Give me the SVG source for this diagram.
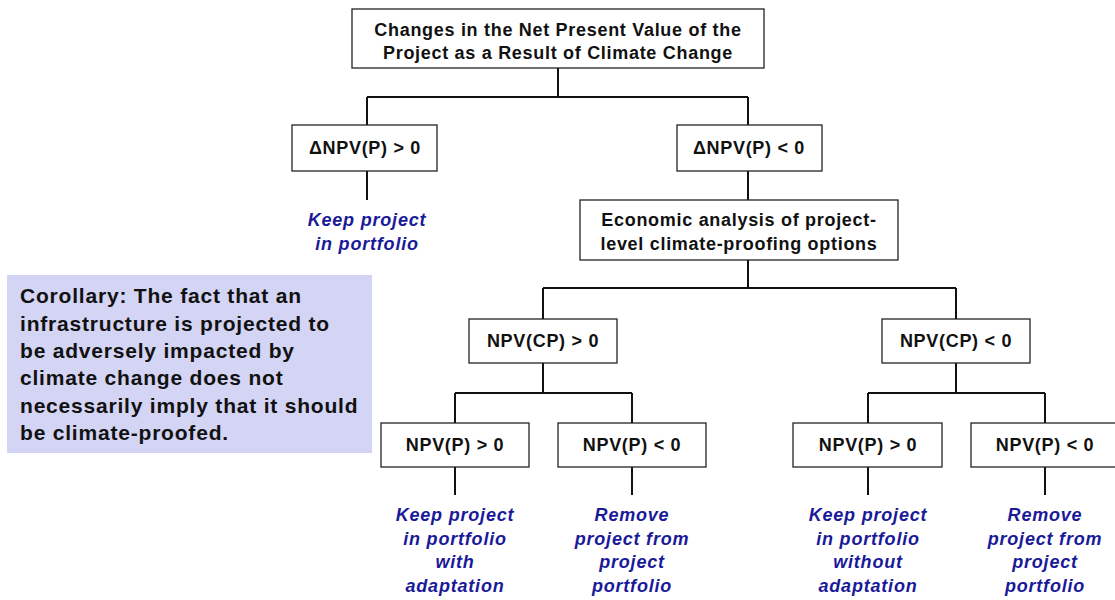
<svg xmlns="http://www.w3.org/2000/svg" width="1115" height="600" viewBox="0 0 1115 600">
<style>
.box{fill:#fff;stroke:#222;stroke-width:1.3}
.t{font-family:"Liberation Sans",Arial,sans-serif;font-weight:bold;font-size:18px;letter-spacing:0.7px;fill:#111;text-anchor:middle}
.o{font-family:"Liberation Sans",Arial,sans-serif;font-weight:bold;font-style:italic;font-size:18px;letter-spacing:0.8px;fill:#1a1a99;text-anchor:middle}
.c{font-family:"Liberation Sans",Arial,sans-serif;font-weight:bold;font-size:21px;letter-spacing:0.8px;fill:#111}
.ln{fill:none;stroke:#111;stroke-width:2}
</style>
<rect width="1115" height="600" fill="#fff"/>
<g id="connectors" class="ln">
<path d="M558 68V97M367 97H748M367 97V125M748 97V125"/>
<path d="M367 171V200M748 171V200"/>
<path d="M748 260V288M543 288H956M543 288V319M956 288V319"/>
<path d="M543 363V393M455 393H632M455 393V423M632 393V423"/>
<path d="M956 363V393M868 393H1045M868 393V423M1045 393V423"/>
<path d="M455 467V495M632 467V495M868 467V495M1045 467V495"/>
</g>
<g id="root"><rect class="box" x="352" y="9" width="412" height="59"/>
<text class="t" x="558" y="36">Changes in the Net Present Value of the</text>
<text class="t" x="558" y="59">Project as a Result of Climate Change</text></g>
<g id="dnpv-pos"><rect class="box" x="292" y="125" width="145" height="46"/>
<text class="t" x="365" y="154">ΔNPV(P) &gt; 0</text></g>
<g id="dnpv-neg"><rect class="box" x="677" y="125" width="145" height="46"/>
<text class="t" x="749" y="154">ΔNPV(P) &lt; 0</text></g>
<g id="keep1"><text class="o" x="367" y="226">Keep project</text><text class="o" x="367" y="250">in portfolio</text></g>
<g id="econ"><rect class="box" x="580" y="200" width="318" height="60"/>
<text class="t" x="739" y="226">Economic analysis of project-</text>
<text class="t" x="739" y="250">level climate-proofing options</text></g>
<g id="cp-pos"><rect class="box" x="469" y="319" width="148" height="44"/>
<text class="t" x="543" y="347">NPV(CP) &gt; 0</text></g>
<g id="cp-neg"><rect class="box" x="882" y="319" width="148" height="44"/>
<text class="t" x="956" y="347">NPV(CP) &lt; 0</text></g>
<g id="p-pos-1"><rect class="box" x="381" y="423" width="148" height="44"/>
<text class="t" x="455" y="451">NPV(P) &gt; 0</text></g>
<g id="p-neg-1"><rect class="box" x="558" y="423" width="148" height="44"/>
<text class="t" x="632" y="451">NPV(P) &lt; 0</text></g>
<g id="p-pos-2"><rect class="box" x="793" y="423" width="149" height="44"/>
<text class="t" x="868" y="451">NPV(P) &gt; 0</text></g>
<g id="p-neg-2"><rect class="box" x="971" y="423" width="148" height="44"/>
<text class="t" x="1045" y="451">NPV(P) &lt; 0</text></g>
<g id="out1"><text class="o" x="455" y="521">Keep project</text><text class="o" x="455" y="545">in portfolio</text><text class="o" x="455" y="568">with</text><text class="o" x="455" y="592">adaptation</text></g>
<g id="out2"><text class="o" x="632" y="521">Remove</text><text class="o" x="632" y="545">project from</text><text class="o" x="632" y="568">project</text><text class="o" x="632" y="592">portfolio</text></g>
<g id="out3"><text class="o" x="868" y="521">Keep project</text><text class="o" x="868" y="545">in portfolio</text><text class="o" x="868" y="568">without</text><text class="o" x="868" y="592">adaptation</text></g>
<g id="out4"><text class="o" x="1045" y="521">Remove</text><text class="o" x="1045" y="545">project from</text><text class="o" x="1045" y="568">project</text><text class="o" x="1045" y="592">portfolio</text></g>
<g id="corollary"><rect x="7" y="275" width="365" height="178" fill="#d4d4f4"/>
<text class="c" x="20" y="303">Corollary: The fact that an</text>
<text class="c" x="20" y="331">infrastructure is projected to</text>
<text class="c" x="20" y="358">be adversely impacted by</text>
<text class="c" x="20" y="385">climate change does not</text>
<text class="c" x="20" y="413">necessarily imply that it should</text>
<text class="c" x="20" y="440">be climate-proofed.</text></g>
</svg>
